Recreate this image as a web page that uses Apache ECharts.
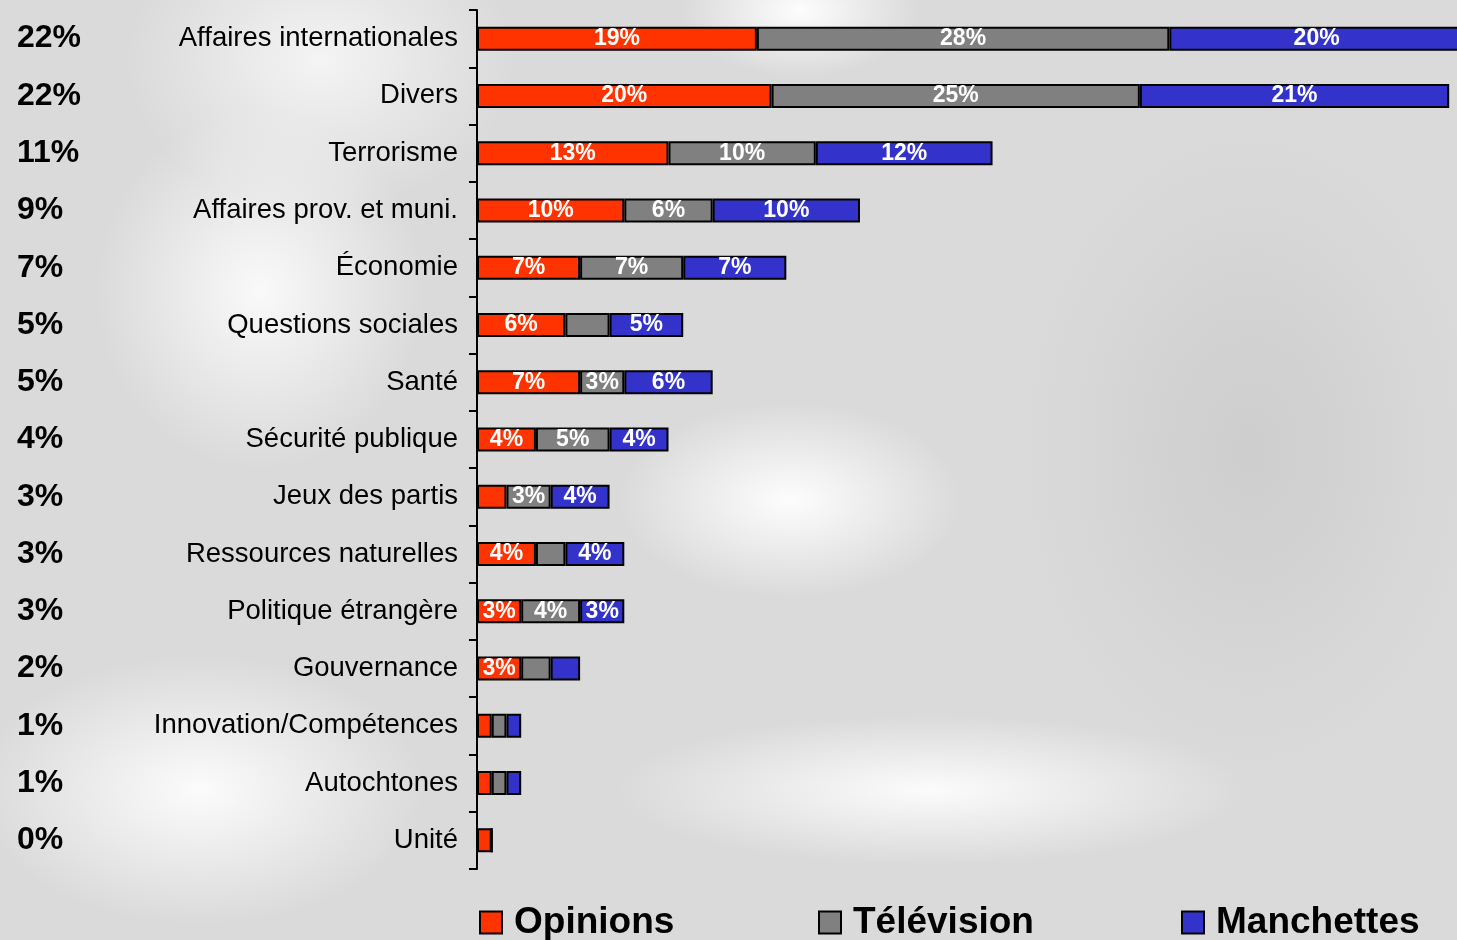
<!DOCTYPE html>
<html>
<head>
<meta charset="utf-8">
<script src="https://cdn.jsdelivr.net/npm/echarts@6/dist/echarts.min.js"></script>
<style>
html,body{margin:0;padding:0;width:1457px;height:940px;overflow:hidden;}
body{
  background:
    radial-gradient(ellipse 160px 90px at 800px 10px, rgba(255,255,255,0.95), rgba(255,255,255,0) 75%),
    radial-gradient(ellipse 230px 130px at 790px 500px, rgba(255,255,255,0.95), rgba(255,255,255,0) 75%),
    radial-gradient(ellipse 420px 100px at 930px 790px, rgba(255,255,255,0.9), rgba(255,255,255,0) 75%),
    radial-gradient(ellipse 220px 240px at 260px 290px, rgba(255,255,255,0.85), rgba(255,255,255,0) 75%),
    radial-gradient(ellipse 300px 180px at 200px 790px, rgba(255,255,255,0.9), rgba(255,255,255,0) 75%),
    radial-gradient(ellipse 260px 200px at 320px 60px, rgba(255,255,255,0.7), rgba(255,255,255,0) 75%),
    radial-gradient(ellipse 300px 420px at 1250px 450px, rgba(200,200,200,0.7), rgba(200,200,200,0) 75%),
    #dadada;
}
#chart{width:1457px;height:940px;}
</style>
</head>
<body>
<div id="chart"></div>
<script>
const categories = ["Affaires internationales","Divers","Terrorisme","Affaires prov. et muni.","Économie","Questions sociales","Santé","Sécurité publique","Jeux des partis","Ressources naturelles","Politique étrangère","Gouvernance","Innovation/Compétences","Autochtones","Unité"];
const totals = ["22%","22%","11%","9%","7%","5%","5%","4%","3%","3%","3%","2%","1%","1%","0%"];
const opinions   = [19,20,13,10,7,6,7,4,2,4,3,3,1,1,1];
const television = [28,25,10,6,7,3,3,5,3,2,4,2,1,1,0];
const manchettes = [20,21,12,10,7,5,6,4,4,4,3,2,1,1,0];
// labels printed inside the bars (null = no label)
const opinionsLabels   = ["19%","20%","13%","10%","7%","6%","7%","4%",null,"4%","3%","3%",null,null,null];
const televisionLabels = ["28%","25%","10%","6%","7%",null,"3%","5%","3%",null,"4%",null,null,null,null];
const manchettesLabels = ["20%","21%","12%","10%","7%","5%","6%","4%","4%","4%","3%",null,null,null,null];
const seriesNames = ["Opinions","Télévision","Manchettes"];
const colors = ["#FF3300","#808080","#3333CC"];

const FONT = "'Liberation Sans', Arial, sans-serif";
const chart = echarts.init(document.getElementById('chart'), null, {renderer:'canvas'});

function mkSeries(i, values, labels){
  return {
    name: seriesNames[i],
    type: 'bar',
    stack: 'total',
    barWidth: 24,
    clip: false,
    data: values.map((v, k) => ({
      value: v,
      label: {show: labels[k] !== null, formatter: labels[k] || ''}
    })),
    itemStyle: {color: colors[i], borderColor: '#000', borderWidth: 2},
    label: {
      position: 'inside', color: '#fff', fontFamily: FONT,
      fontWeight: 'bold', fontSize: 23
    },
    emphasis: {disabled: true},
    animation: false
  };
}

const legendBase = (name, left) => ({
  data: [name], left: left, top: 899, orient: 'horizontal',
  itemWidth: 22, itemHeight: 22, itemGap: 10, icon: 'rect',
  textStyle: {fontFamily: FONT, fontWeight: 'bold', fontSize: 37, color: '#000', lineHeight: 37,
    padding: [0, 0, 0, 7]},
  selectedMode: false
});

chart.setOption({
  backgroundColor: 'transparent',
  animation: false,
  grid: {left: 477, top: 10, right: 0, height: 859, containLabel: false},
  xAxis: {
    type: 'value', min: 0, max: 980 / 14.73, show: false
  },
  yAxis: [{
    type: 'category', inverse: true, data: categories, position: 'left',
    axisLine: {show: true, lineStyle: {color: '#000', width: 2}},
    axisTick: {show: true, length: 8, lineStyle: {color: '#000', width: 2}},
    axisLabel: {color: '#000', fontFamily: FONT, fontSize: 27.5, margin: 19, padding: [3, 0, 0, 0]},
    splitLine: {show: false}
  }, {
    type: 'category', inverse: true, data: totals, position: 'left',
    axisLine: {show: false}, axisTick: {show: false},
    axisLabel: {color: '#000', fontFamily: FONT, fontSize: 32, fontWeight: 'bold',
      margin: 460, align: 'left', padding: [0,0,14,0]},
    splitLine: {show: false}
  }],
  legend: [legendBase(seriesNames[0], 474), legendBase(seriesNames[1], 813), legendBase(seriesNames[2], 1176)],
  series: [
    mkSeries(0, opinions, opinionsLabels),
    mkSeries(1, television, televisionLabels),
    mkSeries(2, manchettes, manchettesLabels)
  ]
});
</script>
</body>
</html>
